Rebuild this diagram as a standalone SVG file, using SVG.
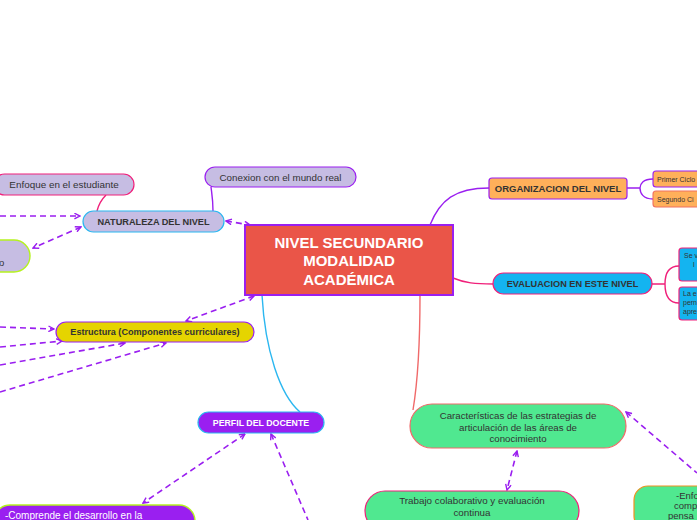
<svg xmlns="http://www.w3.org/2000/svg" width="697" height="520" viewBox="0 0 697 520">
<style>
text{font-family:"Liberation Sans","Noto Sans",Arial,sans-serif;fill:#333;text-anchor:middle}
.b{font-weight:bold}
.w{fill:#fff}
.st{text-anchor:start}
.lav{fill:#C6BDE3}
.d{fill:none;stroke:#9A1FF0;stroke-width:1.6;stroke-dasharray:6 4}
.s{fill:none;stroke-width:1.4}
</style>
<defs>
<marker id="ar" viewBox="0 0 10 10" refX="9" refY="5" markerWidth="7" markerHeight="7" markerUnits="userSpaceOnUse" orient="auto-start-reverse">
<path d="M1,1 L9,5 L1,9" fill="none" stroke="#9A1FF0" stroke-width="2"/>
</marker>
</defs>
<rect width="697" height="520" fill="#fff"/>
<g id="connectors">
<path class="s" stroke="#F0207A" d="M97,211 C99,203 102,199 106,195"/>
<path class="s" stroke="#9A1FF0" d="M213,211 C213,200 212,195 211,187"/>
<path class="s" stroke="#9A1FF0" d="M430,225 C440,200 455,188 489,188"/>
<path class="s" stroke="#9A1FF0" d="M627,188 H640 M653,179 C643,179 640,184 640,188 C640,193 643,199 653,199"/>
<path class="s" stroke="#F0207A" d="M453,278 C465,283 475,284 493,284"/>
<path class="s" stroke="#F0207A" d="M652,284 H665 M679,266 C668,266 665,274 665,284 C665,294 668,303 679,303"/>
<path class="s" stroke="#F06A6A" d="M420,295 C420,340 418,380 413,410"/>
<path class="s" stroke="#2BB7F0" d="M262,295 C265,350 280,395 300,412"/>
<path class="d" d="M0,216 L80,216" marker-end="url(#ar)"/>
<path class="d" d="M81,227 L33,248" marker-start="url(#ar)" marker-end="url(#ar)"/>
<path class="d" d="M226,221 L250,225" marker-start="url(#ar)" marker-end="url(#ar)"/>
<path class="d" d="M0,327 L54,329" marker-end="url(#ar)"/>
<path class="d" d="M0,347 L62,341" marker-end="url(#ar)"/>
<path class="d" d="M0,365 L125,343" marker-end="url(#ar)"/>
<path class="d" d="M0,392 L166,343" marker-end="url(#ar)"/>
<path class="d" d="M254,296 L186,321" marker-start="url(#ar)" marker-end="url(#ar)"/>
<path class="d" d="M245,434 L143,503" marker-start="url(#ar)" marker-end="url(#ar)"/>
<path class="d" d="M271,434 L308,520" marker-start="url(#ar)"/>
<path class="d" d="M517,451 L507,490" marker-start="url(#ar)" marker-end="url(#ar)"/>
<path class="d" d="M626,412 L697,473" marker-start="url(#ar)"/>
</g>
<g id="central">
<rect x="245" y="225" width="208" height="70" fill="#EA5548" stroke="#9A1FF0" stroke-width="2"/>
<text class="b w" font-size="15" x="349" y="248">NIVEL SECUNDARIO</text>
<text class="b w" font-size="15" x="349" y="266">MODALIDAD</text>
<text class="b w" font-size="15" x="349" y="285">ACADÉMICA</text>
</g>
<g id="naturaleza">
<rect x="83" y="211" width="141" height="21" rx="10.5" class="lav" stroke="#2BB7F0" stroke-width="1.2"/>
<text class="b" font-size="9.2" x="153.5" y="224.8">NATURALEZA DEL NIVEL</text>
</g>
<g id="enfoque">
<rect x="-6" y="174" width="140" height="21" rx="10.5" class="lav" stroke="#F0207A" stroke-width="1.2"/>
<text font-size="9.9" x="64" y="188.3">Enfoque en el estudiante</text>
</g>
<g id="conexion">
<rect x="205" y="167" width="151" height="20" rx="10" class="lav" stroke="#9A1FF0" stroke-width="1.2"/>
<text font-size="9.8" x="280.5" y="180.5">Conexion con el mundo real</text>
</g>
<g id="left-node">
<rect x="-30" y="240" width="60" height="32" rx="16" class="lav" stroke="#B5F21F" stroke-width="1.4"/>
<text class="st" font-size="9.5" x="-1" y="266">o</text>
</g>
<g id="estructura">
<rect x="56" y="322" width="198" height="20" rx="10" fill="#E5D400" stroke="#9A1FF0" stroke-width="1.2"/>
<text class="b" font-size="9.1" x="155" y="335.3">Estructura (Componentes curriculares)</text>
</g>
<g id="perfil">
<rect x="198" y="412" width="126" height="21" rx="10.5" fill="#9A1FF0" stroke="#2BB7F0" stroke-width="1.2"/>
<text class="b w" font-size="8.8" x="261" y="425.8">PERFIL DEL DOCENTE</text>
</g>
<g id="comprende">
<rect x="-6" y="505" width="201" height="32" rx="16" fill="#9A1FF0" stroke="#B5F21F" stroke-width="1.4"/>
<text class="w st" font-size="10" x="5" y="519">-Comprende el desarrollo en la</text>
</g>
<g id="organizacion">
<rect x="489" y="178" width="138" height="21" rx="3" fill="#FFB05A" stroke="#9A1FF0" stroke-width="1.2"/>
<text class="b" font-size="9.5" x="558" y="191.8">ORGANIZACION DEL NIVEL</text>
</g>
<g id="primer">
<rect x="653" y="171" width="50" height="16" rx="3" fill="#FFB05A" stroke="#9A1FF0" stroke-width="1.1"/>
<text class="st" font-size="7" x="657" y="182">Primer Ciclo</text>
</g>
<g id="segundo">
<rect x="653" y="191" width="50" height="16" rx="3" fill="#FFB05A" stroke="#F07060" stroke-width="1.1"/>
<text class="st" font-size="7" x="657" y="202">Segundo Ci</text>
</g>
<g id="evaluacion">
<rect x="493" y="273" width="159" height="21" rx="10.5" fill="#14B4F0" stroke="#F0207A" stroke-width="1.2"/>
<text class="b" font-size="9.2" x="572.5" y="286.8">EVALUACION EN ESTE NIVEL</text>
</g>
<g id="eval-1">
<rect x="679" y="248" width="30" height="33" rx="3" fill="#14B4F0" stroke="#F0207A" stroke-width="1.2"/>
<text class="st" font-size="7" x="684" y="258">Se v</text>
<text class="st" font-size="7" x="693" y="267">l</text>
</g>
<g id="eval-2">
<rect x="679" y="287" width="30" height="33" rx="3" fill="#14B4F0" stroke="#F0207A" stroke-width="1.2"/>
<text class="st" font-size="7" x="683" y="296">La e</text>
<text class="st" font-size="7" x="683" y="305">pern</text>
<text class="st" font-size="7" x="683" y="314">apre</text>
</g>
<g id="caracteristicas">
<rect x="410" y="404" width="216" height="44" rx="22" fill="#50E890" stroke="#F06A6A" stroke-width="1.2"/>
<text font-size="9.7" x="518" y="419">Características de las estrategias de</text>
<text font-size="9.7" x="518" y="430.5">articulación de las áreas de</text>
<text font-size="9.7" x="518" y="442">conocimiento</text>
</g>
<g id="trabajo">
<rect x="365" y="491" width="214" height="40" rx="20" fill="#50E890" stroke="#F0207A" stroke-width="1.2"/>
<text font-size="9.8" x="472" y="504">Trabajo colaborativo y evaluación</text>
<text font-size="9.8" x="472" y="516">continua</text>
</g>
<g id="enfo">
<rect x="634" y="486" width="90" height="44" rx="14" fill="#50E890" stroke="#F09020" stroke-width="1.2"/>
<text class="st" font-size="9.5" x="676" y="499">-Enfo</text>
<text class="st" font-size="9.5" x="674" y="509">comp</text>
<text class="st" font-size="9.5" x="668" y="519">pensa</text>
</g>
</svg>
